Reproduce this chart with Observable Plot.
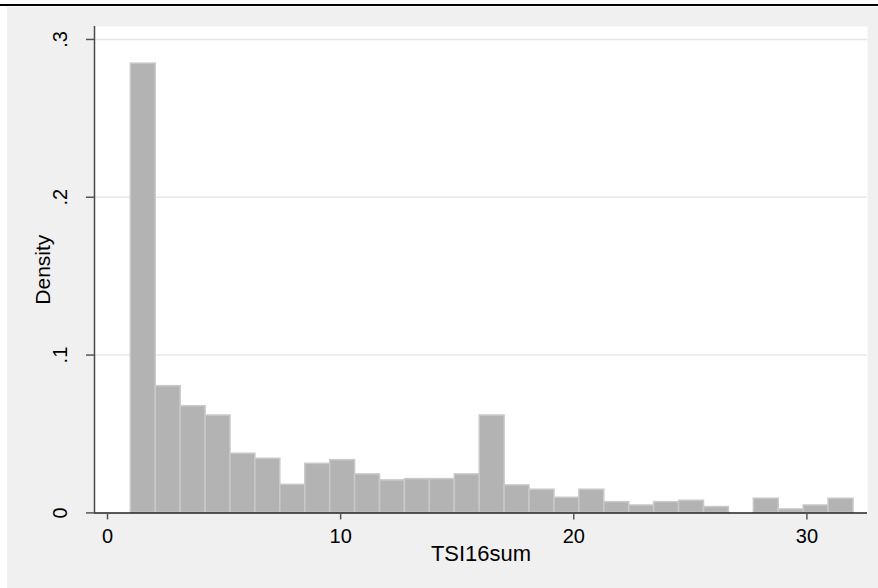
<!DOCTYPE html>
<html>
<head>
<meta charset="utf-8">
<script src="https://cdn.jsdelivr.net/npm/d3@7"></script>
<script src="https://cdn.jsdelivr.net/npm/@observablehq/plot@0.6"></script>
<style>
  body { margin: 0; background: #ffffff; }
  #wrap { position: relative; width: 878px; height: 588px; overflow: hidden; background: #ffffff; }
  #topline { position: absolute; left: 0; top: 4px; width: 878px; height: 2px; background: #000; }
  #chart { position: absolute; left: 7px; top: 7px; }
</style>
</head>
<body>
<div id="wrap">
  <div id="topline"></div>
  <div id="chart"></div>
</div>
<script>
// Histogram of TSI16sum (29 bins from 1 to 32)
const binStart = 1;
const binEnd = 32;
const density = [0.2847, 0.0803, 0.0676, 0.0617, 0.0375, 0.0343, 0.0178, 0.0311, 0.0334, 0.0244,
                 0.0206, 0.0214, 0.0214, 0.0244, 0.0617, 0.0174, 0.0147, 0.0096, 0.0147, 0.0068,
                 0.0047, 0.0068, 0.0077, 0.0037, 0.0000, 0.0090, 0.0022, 0.0047, 0.0090];
const xTicks = [0, 10, 20, 30];
const yTicks = [0, 0.1, 0.2, 0.3];
const yTickLabels = ["0", ".1", ".2", ".3"];
const xTitle = "TSI16sum";
const yTitle = "Density";

const binWidth = (binEnd - binStart) / density.length;
const bars = density.map((d, i) => ({x1: binStart + i * binWidth, x2: binStart + (i + 1) * binWidth, y: d}))
  .filter(d => d.y > 0);

const xDomain = [-0.558, 32.6];
const yDomain = [0, 0.3082];
const font = "'Liberation Sans', Arial, Helvetica, sans-serif";

const chart = Plot.plot({
  width: 871,
  height: 581,
  marginLeft: 87,
  marginRight: 11,
  marginTop: 19,
  marginBottom: 75.6,
  style: {background: "#f0f0f0", fontFamily: font, color: "#000"},
  x: {domain: xDomain},
  y: {domain: yDomain},
  marks: [
    Plot.frame({fill: "#ffffff", stroke: null}),
    Plot.ruleY(yTicks.slice(1), {stroke: "#e8e8e8", strokeWidth: 1.5}),
    Plot.rectY(bars, {x1: "x1", x2: "x2", y: "y", fill: "#b3b3b3", stroke: "#c9c9c9", strokeWidth: 1.5}),
    Plot.ruleX([xDomain[0]], {stroke: "#4a4a4a", strokeWidth: 1.5}),
    Plot.ruleY([0], {stroke: "#222", strokeWidth: 1.5}),
    Plot.axisX({ticks: xTicks, tickSize: 7, tickPadding: 9, fontSize: 20, stroke: "#555", strokeWidth: 1.5, label: null}),
    Plot.axisY({ticks: yTicks, tickFormat: (d, i) => yTickLabels[yTicks.indexOf(d)], tickSize: 8, tickPadding: 20,
                tickRotate: -90, fontSize: 20, stroke: "#555", strokeWidth: 1.5, label: null}),
    Plot.text([xTitle], {text: d => d, frameAnchor: "bottom", textAnchor: "middle", dy: 48, fontSize: 22, fill: "#000"}),
    Plot.text([yTitle], {text: d => d, frameAnchor: "left", textAnchor: "middle", dx: -51, rotate: -90, fontSize: 21, fill: "#000"})
  ]
});
document.getElementById("chart").appendChild(chart);
</script>
</body>
</html>
